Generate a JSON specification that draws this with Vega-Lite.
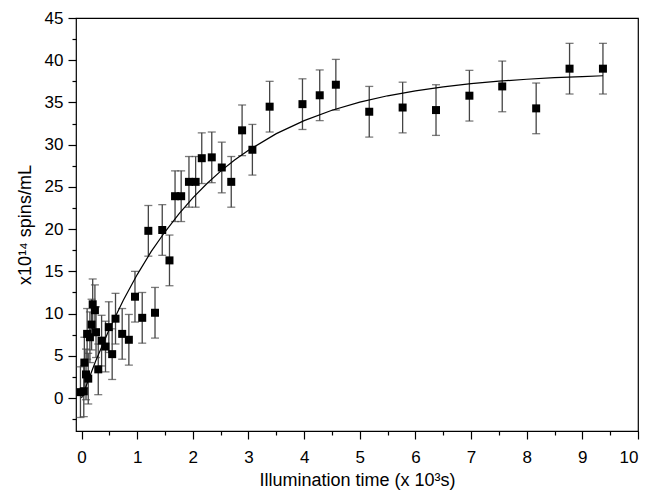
{
  "$schema": "https://vega.github.io/schema/vega-lite/v6.json",
  "width": 562,
  "height": 413,
  "autosize": "none",
  "padding": {"left": 76, "top": 18, "right": 9, "bottom": 62},
  "background": "white",
  "config": {
    "font": "Liberation Sans",
    "view": {"stroke": "black", "strokeWidth": 1.2},
    "axis": {
      "grid": false,
      "domain": false,
      "tickColor": "black",
      "tickWidth": 1.2,
      "labelColor": "black",
      "labelFont": "Liberation Sans",
      "labelFontSize": 17,
      "titleFont": "Liberation Sans",
      "titleFontSize": 18,
      "titleFontWeight": "normal",
      "titleColor": "black"
    }
  },
  "datasets": {
    "pts": [
      {"t": -0.02, "s": 0.7, "e": 3},
      {"t": 0.04, "s": 0.8, "e": 3},
      {"t": 0.05, "s": 4.2, "e": 3},
      {"t": 0.08, "s": 2.8, "e": 3},
      {"t": 0.12, "s": 2.3, "e": 3},
      {"t": 0.1, "s": 7.6, "e": 3},
      {"t": 0.15, "s": 7.2, "e": 3},
      {"t": 0.18, "s": 8.7, "e": 3},
      {"t": 0.2, "s": 11.1, "e": 3},
      {"t": 0.24, "s": 10.4, "e": 3},
      {"t": 0.26, "s": 7.8, "e": 3},
      {"t": 0.3, "s": 3.4, "e": 3},
      {"t": 0.36, "s": 6.8, "e": 3},
      {"t": 0.43, "s": 6.1, "e": 3},
      {"t": 0.49, "s": 8.4, "e": 3},
      {"t": 0.55, "s": 5.2, "e": 3},
      {"t": 0.61, "s": 9.4, "e": 3},
      {"t": 0.73, "s": 7.6, "e": 3},
      {"t": 0.85, "s": 6.9, "e": 3},
      {"t": 0.96, "s": 12.0, "e": 3},
      {"t": 1.09, "s": 9.5, "e": 3},
      {"t": 1.2, "s": 19.8, "e": 3},
      {"t": 1.32, "s": 10.1, "e": 3},
      {"t": 1.45, "s": 19.9, "e": 3},
      {"t": 1.58, "s": 16.3, "e": 3},
      {"t": 1.68, "s": 23.9, "e": 3},
      {"t": 1.79, "s": 23.9, "e": 3},
      {"t": 1.93, "s": 25.6, "e": 3},
      {"t": 2.05, "s": 25.6, "e": 3},
      {"t": 2.16, "s": 28.4, "e": 3},
      {"t": 2.34, "s": 28.5, "e": 3},
      {"t": 2.52, "s": 27.3, "e": 3},
      {"t": 2.69, "s": 25.6, "e": 3},
      {"t": 2.885, "s": 31.7, "e": 3},
      {"t": 3.07, "s": 29.4, "e": 3},
      {"t": 3.38, "s": 34.5, "e": 3},
      {"t": 3.97, "s": 34.8, "e": 3},
      {"t": 4.28, "s": 35.85, "e": 3},
      {"t": 4.57, "s": 37.1, "e": 3},
      {"t": 5.17, "s": 33.9, "e": 3},
      {"t": 5.77, "s": 34.4, "e": 3},
      {"t": 6.37, "s": 34.1, "e": 3},
      {"t": 6.97, "s": 35.8, "e": 3},
      {"t": 7.56, "s": 36.9, "e": 3},
      {"t": 8.17, "s": 34.3, "e": 3},
      {"t": 8.77, "s": 39.0, "e": 3},
      {"t": 9.37, "s": 39.0, "e": 3}
    ],
    "fit": [
      {"t": 0, "s": 0},
      {"t": 0.25, "s": 4.33},
      {"t": 0.5, "s": 8.18},
      {"t": 0.75, "s": 11.58},
      {"t": 1.0, "s": 14.62},
      {"t": 1.25, "s": 17.33},
      {"t": 1.5, "s": 19.69},
      {"t": 1.75, "s": 21.81},
      {"t": 2.0, "s": 23.7},
      {"t": 2.25, "s": 25.37},
      {"t": 2.5, "s": 26.87},
      {"t": 2.75, "s": 28.18},
      {"t": 3.0, "s": 29.34},
      {"t": 3.5, "s": 31.31},
      {"t": 4.0, "s": 32.85},
      {"t": 4.5, "s": 34.08},
      {"t": 5.0, "s": 35.03},
      {"t": 5.5, "s": 35.79},
      {"t": 6.0, "s": 36.38},
      {"t": 6.5, "s": 36.85},
      {"t": 7.0, "s": 37.22},
      {"t": 7.5, "s": 37.52},
      {"t": 8.0, "s": 37.75},
      {"t": 8.5, "s": 37.93},
      {"t": 9.0, "s": 38.07},
      {"t": 9.37, "s": 38.16}
    ]
  },
  "resolve": {"axis": {"x": "independent", "y": "independent"}},
  "layer": [
    {
      "data": {"name": "pts"},
      "mark": {"type": "errorbar", "color": "#444444", "thickness": 1.3, "ticks": {"size": 8, "color": "#444444"}},
      "encoding": {
        "x": {
          "field": "t", "type": "quantitative",
          "scale": {"domain": [-0.1, 10], "nice": false, "zero": false},
          "axis": {"orient": "bottom", "values": [0,1,2,3,4,5,6,7,8,9,10], "tickSize": 8, "labelPadding": 10, "title": "Illumination time (x 10³s)", "titlePadding": 6}
        },
        "y": {
          "field": "s", "type": "quantitative",
          "scale": {"domain": [-3.9, 45], "nice": false, "zero": false},
          "axis": {"orient": "left", "values": [0,5,10,15,20,25,30,35,40,45], "tickSize": 8, "labelPadding": 5, "title": "x10¹⁴ spins/mL", "titlePadding": 10}
        },
        "yError": {"field": "e"}
      }
    },
    {
      "data": {"name": "pts"},
      "mark": {"type": "point", "opacity": 0},
      "encoding": {
        "x": {"field": "t", "type": "quantitative", "axis": {"orient": "bottom", "values": [0.5,1.5,2.5,3.5,4.5,5.5,6.5,7.5,8.5,9.5], "tickSize": 4, "labels": false, "title": null}},
        "y": {"field": "s", "type": "quantitative", "axis": {"orient": "left", "values": [-2.5,2.5,7.5,12.5,17.5,22.5,27.5,32.5,37.5,42.5], "tickSize": 4, "labels": false, "title": null}}
      }
    },
    {
      "data": {"name": "fit"},
      "mark": {"type": "line", "color": "black", "strokeWidth": 1.2},
      "encoding": {
        "x": {"field": "t", "type": "quantitative", "axis": null},
        "y": {"field": "s", "type": "quantitative", "axis": null}
      }
    },
    {
      "data": {"name": "pts"},
      "mark": {"type": "point", "shape": "square", "filled": true, "color": "black", "size": 64, "opacity": 1},
      "encoding": {
        "x": {"field": "t", "type": "quantitative", "axis": null},
        "y": {"field": "s", "type": "quantitative", "axis": null}
      }
    }
  ]
}
